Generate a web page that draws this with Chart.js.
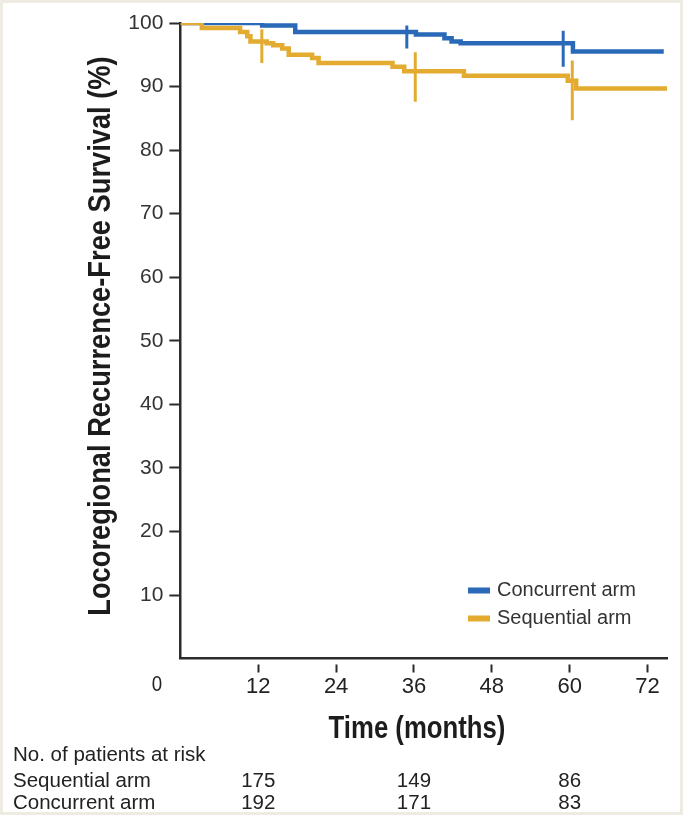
<!DOCTYPE html>
<html>
<head>
<meta charset="utf-8">
<script src="https://cdn.jsdelivr.net/npm/chart.js@4.4.1/dist/chart.umd.min.js"></script>
<style>
  html, body { margin: 0; padding: 0; background: #eeebe2; }
  #wrap { position: absolute; left: 3px; top: 3px; width: 677px; height: 809px; background: #fff; }
</style>
</head>
<body>
<div id="wrap"><canvas id="lrfs"></canvas></div>
<script>
// Kaplan-Meier steps, time in months / survival in %
const concurrentTimes = [0, 12.6, 17.7, 36.3, 40.7, 41.8, 43.2, 60.5, 74.5];
const concurrentSurv  = [100, 99.6, 98.6, 98.2, 97.6, 97.1, 96.8, 95.5, 95.5];
const sequentialTimes = [0, 3.3, 9.2, 10.3, 10.8, 13.3, 14.3, 15.7, 16.7, 20.3, 21.3, 32.7, 34.5, 43.7, 59.7, 61.0, 75.1];
const sequentialSurv  = [100, 99.2, 98.6, 97.9, 97.1, 96.8, 96.5, 96.0, 95.0, 94.5, 93.7, 93.1, 92.4, 91.7, 90.9, 89.7, 89.7];

// censor ticks (time, low %, high %)
const concurrentCensorTimes = [34.9, 59.0];
const concurrentCensorLow   = [96.0, 93.1];
const concurrentCensorHigh  = [99.6, 98.8];
const sequentialCensorTimes = [12.55, 36.2, 60.4];
const sequentialCensorLow   = [93.7, 87.6, 84.7];
const sequentialCensorHigh  = [99.0, 95.4, 94.1];

// patients at risk
const riskTimes = [12, 36, 60];
const sequentialAtRisk = [175, 149, 86];
const concurrentAtRisk = [192, 171, 83];

const seriesNames = ['Concurrent arm', 'Sequential arm'];
const blue = '#2969b8';
const gold = '#e3ac30';

const SANS = '"Liberation Sans", Arial, sans-serif';

function toPoints(ts, vs) {
  return ts.map((t, i) => ({x: t, y: vs[i]}));
}
function censorPoints(ts, lo, hi) {
  const out = [];
  ts.forEach((t, i) => {
    out.push({x: t, y: lo[i]}, {x: t, y: hi[i]}, {x: t, y: null});
  });
  return out;
}

const hideZero = (c) => (c.tick && c.tick.value === 0) ? 'rgba(0,0,0,0)' : '#2b2b2b';

// condensed bold text: squeeze regular Liberation Sans Bold horizontally
function narrowText(ctx, text, x, y, squeeze) {
  ctx.save();
  ctx.translate(x, y);
  ctx.scale(squeeze, 1);
  ctx.fillText(text, 0, 0);
  ctx.restore();
}

// titles, legend, risk table
const extras = {
  id: 'extras',
  afterDraw(chart) {
    const ctx = chart.ctx;
    const xs = chart.scales.x;
    ctx.save();
    ctx.fillStyle = '#1c1c1c';
    ctx.font = 'bold 31px ' + SANS;
    ctx.textAlign = 'center';

    // y title
    ctx.save();
    ctx.translate(98, 333);
    ctx.rotate(-Math.PI / 2);
    ctx.textBaseline = 'middle';
    narrowText(ctx, 'Locoregional Recurrence-Free Survival (%)', 0, 0, 0.88);
    ctx.restore();

    // x title
    ctx.textBaseline = 'alphabetic';
    narrowText(ctx, 'Time (months)', 414, 735, 0.83);

    // the lone "0" at the corner
    ctx.fillStyle = '#222';
    ctx.font = '22px ' + SANS;
    ctx.textBaseline = 'middle';
    narrowText(ctx, '0', 154, 682, 0.85);

    // legend
    const rows = [[seriesNames[0], blue, 587.5], [seriesNames[1], gold, 615.5]];
    ctx.font = '20px ' + SANS;
    ctx.textAlign = 'left';
    rows.forEach(r => {
      ctx.fillStyle = r[1];
      ctx.fillRect(465, r[2] - 3, 22, 6);
      ctx.fillStyle = '#333';
      ctx.fillText(r[0], 494, r[2]);
    });

    // risk table
    ctx.fillStyle = '#222';
    ctx.font = '20.5px ' + SANS;
    ctx.textBaseline = 'alphabetic';
    ctx.fillText('No. of patients at risk', 10, 758);
    ctx.fillText(seriesNames[1], 10, 784);
    ctx.fillText(seriesNames[0], 10, 806);
    ctx.textAlign = 'center';
    riskTimes.forEach((t, i) => {
      const px = xs.getPixelForValue(t);
      ctx.fillText(String(sequentialAtRisk[i]), px, 784);
      ctx.fillText(String(concurrentAtRisk[i]), px, 806);
    });
    ctx.restore();
  }
};

const ctx = document.getElementById('lrfs');
const chart = new Chart(ctx, {
  type: 'line',
  data: {
    datasets: [
      {
        label: seriesNames[1],
        data: toPoints(sequentialTimes, sequentialSurv),
        borderColor: gold,
        borderWidth: 4.5,
        stepped: true,
        pointRadius: 0,
        order: 0
      },
      {
        label: seriesNames[1] + ' censored',
        data: censorPoints(sequentialCensorTimes, sequentialCensorLow, sequentialCensorHigh),
        borderColor: gold,
        borderWidth: 3,
        pointRadius: 0,
        spanGaps: false,
        order: 0
      },
      {
        label: seriesNames[0],
        data: toPoints(concurrentTimes, concurrentSurv),
        borderColor: blue,
        borderWidth: 4.5,
        stepped: true,
        pointRadius: 0,
        order: 1
      },
      {
        label: seriesNames[0] + ' censored',
        data: censorPoints(concurrentCensorTimes, concurrentCensorLow, concurrentCensorHigh),
        borderColor: blue,
        borderWidth: 3,
        pointRadius: 0,
        spanGaps: false,
        order: 1
      }
    ]
  },
  options: {
    responsive: true,
    maintainAspectRatio: false,
    animation: false,
    layout: { padding: { top: 20, right: 13, left: 0, bottom: 0 } },
    plugins: {
      legend: { display: false },
      tooltip: { enabled: false }
    },
    scales: {
      x: {
        type: 'linear',
        min: 0,
        max: 75,
        afterFit: (s) => { s.height = 153.4; },
        ticks: {
          stepSize: 12,
          includeBounds: false,
          autoSkip: false,
          maxRotation: 0,
          padding: 1,
          color: '#222',
          font: { family: SANS, size: 22 },
          callback: (v) => v === 0 ? '' : v
        },
        grid: {
          drawOnChartArea: false,
          tickLength: 14,
          tickWidth: 2,
          tickColor: hideZero,
          tickBorderDash: [0, 5, 8, 40]
        },
        border: { display: true, color: '#2b2b2b', width: 2.5 }
      },
      y: {
        min: 0,
        max: 100,
        afterFit: (s) => { s.width = 177.4; },
        ticks: {
          stepSize: 10,
          padding: 6,
          color: '#333',
          font: { family: SANS, size: 21 },
          callback: (v) => v === 0 ? '' : v
        },
        grid: {
          drawOnChartArea: false,
          tickLength: 11,
          tickWidth: 2,
          tickColor: hideZero
        },
        border: { display: true, color: '#2b2b2b', width: 2.5 }
      }
    }
  },
  plugins: [extras]
});
</script>
</body>
</html>
